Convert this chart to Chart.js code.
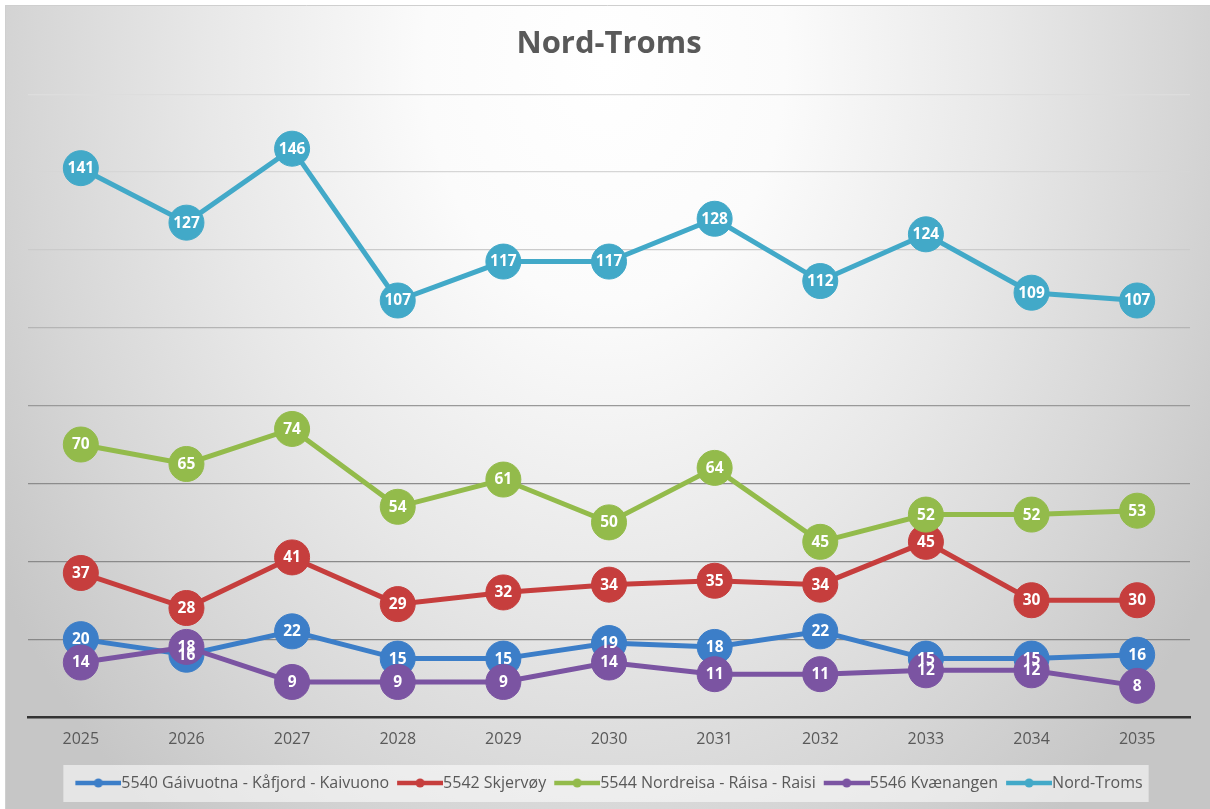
<!DOCTYPE html>
<html>
<head>
<meta charset="utf-8">
<script src="https://cdn.jsdelivr.net/npm/chart.js@4.4.1/dist/chart.umd.min.js"></script>
<style>
  html, body { margin: 0; padding: 0; background: #ffffff; }
  #c { display: block; }
</style>
</head>
<body>
<canvas id="c" width="1210" height="809"></canvas>
<script>
// ---- data ----
const categories = ['2025','2026','2027','2028','2029','2030','2031','2032','2033','2034','2035'];
const seriesNames = ['5540 Gáivuotna - Kåfjord - Kaivuono', '5542 Skjervøy', '5544 Nordreisa - Ráisa - Raisi', '5546 Kvænangen', 'Nord-Troms'];
const kafjord    = [20, 16, 22, 15, 15, 19, 18, 22, 15, 15, 16];
const skjervoy   = [37, 28, 41, 29, 32, 34, 35, 34, 45, 30, 30];
const nordreisa  = [70, 65, 74, 54, 61, 50, 64, 45, 52, 52, 53];
const kvaenangen = [14, 18,  9,  9,  9, 14, 11, 11, 12, 12,  8];
const nordTroms  = [141, 127, 146, 107, 117, 117, 128, 112, 124, 109, 107];
const seriesValues = [kafjord, skjervoy, nordreisa, kvaenangen, nordTroms];
const seriesColors = ['#3c7ec8', '#c63e3d', '#93bb4b', '#7b54a2', '#42a9c8'];
const yMin = 0, yMax = 160, yStep = 20;

// ---- legend marker images (line with dot, padded on the left so text follows directly) ----
function makeMarker(color) {
  const cv = document.createElement('canvas');
  cv.width = 54; cv.height = 12;
  const g = cv.getContext('2d');
  g.strokeStyle = color; g.lineWidth = 4.5; g.lineCap = 'butt';
  g.beginPath(); g.moveTo(8, 6); g.lineTo(54, 6); g.stroke();
  g.fillStyle = color;
  g.beginPath(); g.arc(31, 6, 4.5, 0, Math.PI * 2); g.fill();
  return cv;
}
const markers = seriesColors.map(makeMarker);

const datasets = seriesValues.map((vals, i) => ({
  label: seriesNames[i],
  data: vals,
  borderColor: seriesColors[i],
  backgroundColor: seriesColors[i],
  pointBackgroundColor: seriesColors[i],
  pointBorderColor: seriesColors[i],
  pointBorderWidth: 1,
  pointRadius: 17.5,
  pointHoverRadius: 17.5,
  borderWidth: 5,
  tension: 0,
  fill: false,
  order: seriesValues.length - 1 - i
}));

// ---- plugins ----
const bgPlugin = {
  id: 'bg',
  beforeDraw(chart) {
    const ctx = chart.ctx;
    const W = chart.width, H = chart.height;
    ctx.save();
    ctx.fillStyle = '#ffffff';
    ctx.fillRect(0, 0, W, H);
    ctx.save();
    ctx.beginPath();
    ctx.rect(5, 5, W - 5, H - 5);
    ctx.clip();
    ctx.translate(605, 60);
    ctx.scale(1, 1.35);
    const gr = ctx.createRadialGradient(0, 0, 0, 0, 0, 720);
    gr.addColorStop(0, '#ffffff');
    gr.addColorStop(0.25, '#fbfbfb');
    gr.addColorStop(0.55, '#e8e8e8');
    gr.addColorStop(0.8, '#d6d6d6');
    gr.addColorStop(1, '#c6c6c6');
    ctx.fillStyle = gr;
    ctx.fillRect(-700, -100, 1500, 800);
    ctx.restore();
    ctx.strokeStyle = '#cfcfcf';
    ctx.lineWidth = 1;
    ctx.beginPath();
    ctx.moveTo(5.5, H); ctx.lineTo(5.5, 5.5); ctx.lineTo(W, 5.5);
    ctx.stroke();
    // legend background
    const lg = chart.legend;
    if (lg && lg.legendHitBoxes && lg.legendHitBoxes.length) {
      const hb = lg.legendHitBoxes;
      const x0 = hb[0].left - 12;
      const last = hb[hb.length - 1];
      const x1 = last.left + last.width + 6;
      const yc = hb[0].top + hb[0].height / 2;
      ctx.fillStyle = 'rgba(255,255,255,0.55)';
      ctx.fillRect(x0, yc - 18, x1 - x0, 37);
    }
    ctx.restore();
  }
};

const labelPlugin = {
  id: 'pointLabels',
  afterDatasetsDraw(chart) {
    const ctx = chart.ctx;
    ctx.save();
    ctx.font = 'bold 15.5px "Open Sans", sans-serif';
    ctx.fillStyle = '#ffffff';
    ctx.textAlign = 'center';
    ctx.textBaseline = 'middle';
    chart.data.datasets.forEach((ds, i) => {
      const meta = chart.getDatasetMeta(i);
      meta.data.forEach((pt, j) => {
        ctx.fillText(String(ds.data[j]), pt.x, pt.y + 0.5);
      });
    });
    ctx.restore();
  }
};

const gridColors = {160: '#dddddd', 140: '#d6d6d6', 120: '#cbcbcb', 100: '#b5b5b5', 80: '#999999', 60: '#8c8c8c', 40: '#8a8a8a', 20: '#888888', 0: 'rgba(0,0,0,0)'};

new Chart(document.getElementById('c'), {
  type: 'line',
  data: { labels: categories, datasets },
  plugins: [bgPlugin, labelPlugin],
  options: {
    responsive: false,
    animation: false,
    devicePixelRatio: 1,
    layout: { padding: { left: 28, right: 20, top: 0, bottom: 8 } },
    plugins: {
      title: {
        display: true,
        text: 'Nord-Troms',
        color: '#595959',
        font: { family: '"Open Sans", sans-serif', size: 31, weight: 'bold', lineHeight: 1.2 },
        padding: { top: 26, bottom: 31 }
      },
      legend: {
        position: 'bottom',
        labels: {
          color: '#595959',
          font: { family: '"Open Sans", sans-serif', size: 16 },
          usePointStyle: true,
          pointStyleWidth: 38,
          boxHeight: 12,
          padding: 8,
          generateLabels(chart) {
            const items = Chart.defaults.plugins.legend.labels.generateLabels(chart);
            items.sort((a, b) => a.datasetIndex - b.datasetIndex);
            items.forEach(it => { it.pointStyle = markers[it.datasetIndex]; });
            return items;
          }
        }
      },
      tooltip: { enabled: false }
    },
    scales: {
      x: {
        offset: true,
        grid: { display: false, drawTicks: false },
        border: { display: true, color: '#333333', width: 2.5 },
        ticks: {
          color: '#595959',
          font: { family: '"Open Sans", sans-serif', size: 16 },
          padding: 13,
          maxRotation: 0
        },
        afterFit(scale) { scale.height = 50; }
      },
      y: {
        min: yMin,
        max: yMax,
        ticks: { display: false, stepSize: yStep },
        grid: {
          drawTicks: false,
          lineWidth: 1.2,
          color: (ctx) => gridColors[ctx.tick.value] || '#999999'
        },
        border: { display: false },
        afterFit(scale) { scale.width = 0; }
      }
    }
  }
});
</script>
</body>
</html>
